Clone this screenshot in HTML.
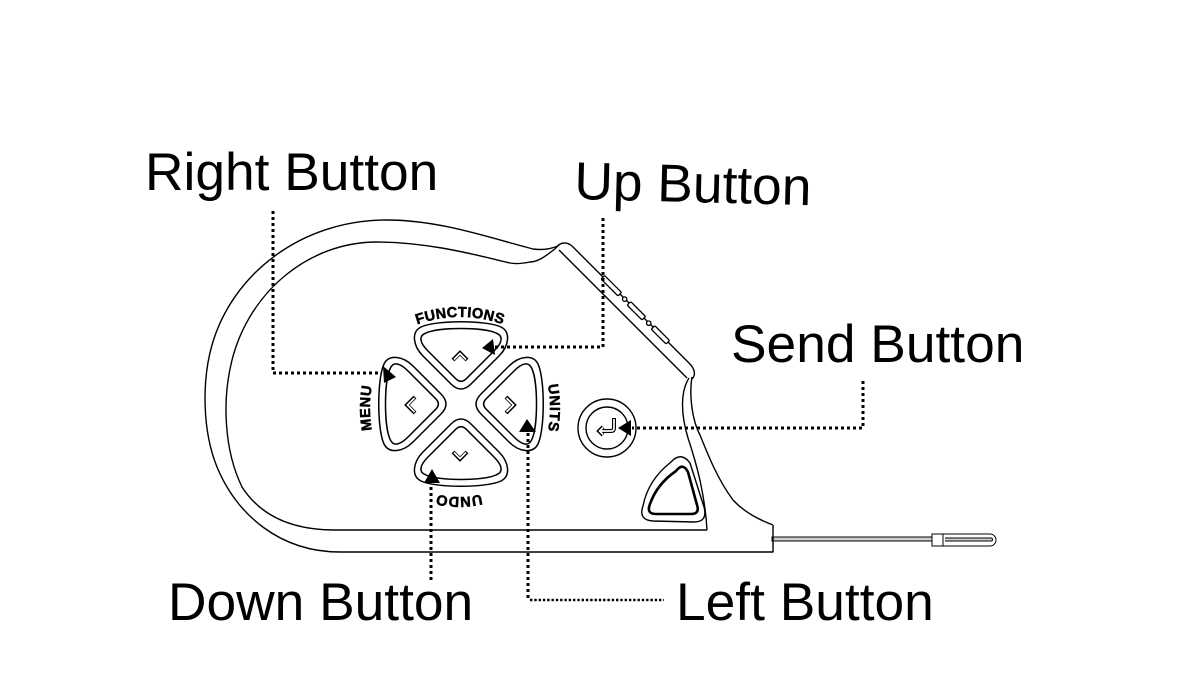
<!DOCTYPE html>
<html><head><meta charset="utf-8">
<style>
html,body{margin:0;padding:0;background:#fff;}
svg{display:block}
</style></head>
<body>
<svg width="1200" height="700" viewBox="0 0 1200 700" xmlns="http://www.w3.org/2000/svg">
<rect width="1200" height="700" fill="#fff"/>

<!-- cable -->
<g stroke="#000" stroke-width="1">
  <rect x="772" y="537" width="160" height="4" fill="#cfcfcf"/>
  <rect x="932" y="534" width="11" height="12" fill="#fff"/>
  <path d="M943,534 L990,534 A6,6 0 0 1 990,546 L943,546 Z" fill="#fff"/>
  <path d="M945,538 L991,538 A1.5,1.5 0 0 1 991,541 L945,541" fill="#cfcfcf"/>
</g>

<!-- body -->
<g fill="none" stroke="#000" stroke-width="1.4" stroke-linejoin="round">
  <path d="M558,246 C548,250 540,250 533,249 C490,238 440,220 387,220 C300,220 232,275 212,345 C202,380 202,430 217,467 C237,515 280,552 340,552 L773,552 L773,525"/>
  <path d="M556,248 C546,256 538,262 530,262 C520,264 515,264 510,263 C480,256 430,242 377,242 C310,242 250,290 232,360 C222,400 224,450 242,487 C260,515 290,530 335,530 L707,530"/>
  <path d="M556,248 C560,242 567,241 573,247 L689,363 C695,369 696,375 692,379"/>
  <path d="M559,250 L687,378"/>
  <path d="M692,377 C689,395 692,420 700,435 C708,455 718,480 733,500 C745,513 760,520 773,525"/>
  <path d="M689,378 C680,392 681,415 688,438 C697,465 705,495 707,530"/>
</g>

<!-- small side buttons on diagonal -->
<g transform="translate(601,279) rotate(45)" fill="#fff" stroke="#000" stroke-width="1.3">
  <rect x="0" y="-5" width="24" height="5" rx="1.2"/>
  <circle cx="31" cy="-2.5" r="2.2"/>
  <rect x="37" y="-5" width="21" height="5" rx="1.2"/>
  <circle cx="65" cy="-2.5" r="2.2"/>
  <rect x="71" y="-5" width="21" height="5" rx="1.2"/>
</g>

<!-- D-pad -->
<g transform="translate(461,404)" fill="#fff" stroke="#000" stroke-width="1.5" stroke-linejoin="round">
  <g>
    <path d="M -10,-20 Q 0,-10 10,-20 L 38,-48 C 48,-58 50,-72 40,-77 C 25,-84 -25,-84 -40,-77 C -50,-72 -48,-58 -38,-48 Z"/>
    <path d="M -5.3,-25.3 Q 0,-20 5.3,-25.3 L 33,-53 C 41,-61 43,-68 35,-71 C 22,-77 -22,-77 -35,-71 C -43,-68 -41,-61 -33,-53 Z"/>
  </g>
  <g transform="rotate(90)">
    <path d="M -10,-20 Q 0,-10 10,-20 L 38,-48 C 48,-58 50,-72 40,-77 C 25,-84 -25,-84 -40,-77 C -50,-72 -48,-58 -38,-48 Z"/>
    <path d="M -5.3,-25.3 Q 0,-20 5.3,-25.3 L 33,-53 C 41,-61 43,-68 35,-71 C 22,-77 -22,-77 -35,-71 C -43,-68 -41,-61 -33,-53 Z"/>
  </g>
  <g transform="rotate(180)">
    <path d="M -10,-20 Q 0,-10 10,-20 L 38,-48 C 48,-58 50,-72 40,-77 C 25,-84 -25,-84 -40,-77 C -50,-72 -48,-58 -38,-48 Z"/>
    <path d="M -5.3,-25.3 Q 0,-20 5.3,-25.3 L 33,-53 C 41,-61 43,-68 35,-71 C 22,-77 -22,-77 -35,-71 C -43,-68 -41,-61 -33,-53 Z"/>
  </g>
  <g transform="rotate(270)">
    <path d="M -10,-20 Q 0,-10 10,-20 L 38,-48 C 48,-58 50,-72 40,-77 C 25,-84 -25,-84 -40,-77 C -50,-72 -48,-58 -38,-48 Z"/>
    <path d="M -5.3,-25.3 Q 0,-20 5.3,-25.3 L 33,-53 C 41,-61 43,-68 35,-71 C 22,-77 -22,-77 -35,-71 C -43,-68 -41,-61 -33,-53 Z"/>
  </g>
</g>

<!-- chevrons (hollow) -->
<g fill="none" stroke="#000" stroke-width="4" stroke-linejoin="miter">
  <path d="M453,360 L460,353 L467,360"/>
  <path d="M415,397 L407,405 L415,413"/>
  <path d="M506,397 L514,405 L506,413"/>
  <path d="M453,452 L460,459 L467,452"/>
</g>
<g fill="none" stroke="#fff" stroke-width="1.7" stroke-linejoin="miter">
  <path d="M454,359.5 L460,353.5 L466,359.5"/>
  <path d="M414.5,398 L407.5,405 L414.5,412"/>
  <path d="M506.5,398 L513.5,405 L506.5,412"/>
  <path d="M454,452.5 L460,458.5 L466,452.5"/>
</g>

<!-- send button -->
<circle cx="607" cy="428" r="29" fill="#fff" stroke="#000" stroke-width="1.4"/>
<circle cx="607" cy="428" r="21" fill="#fff" stroke="#000" stroke-width="1.4"/>
<g fill="none" stroke="#000" stroke-width="4">
  <path d="M614,418 L614,428 Q614,431 611,431 L600,431"/>
  <path d="M603,427 L599,431 L603,435"/>
</g>
<g fill="none" stroke="#fff" stroke-width="1.7">
  <path d="M614,419 L614,428 Q614,431 611,431 L600,431"/>
  <path d="M603,427.5 L599.5,431 L603,434.5"/>
</g>

<!-- triangle button -->
<g fill="#fff" stroke="#000" stroke-linejoin="round">
  <path d="M671,462 Q681,451 690,463 L704,507 Q708,522 694,522 L653,521 Q638,520 643,506 Q648,480 671,462 Z" stroke-width="1.4"/>
  <path d="M676,471 Q683,462 688,472 L697,505 Q700,514 691,514 L656,514 Q646,514 650,504 Q657,484 676,471 Z" stroke-width="2.6"/>
</g>

<!-- D-pad labels -->
<defs>
  <path id="pf" d="M 408,328 Q 460,306 512,328"/>
  <path id="pm" d="M 374,440 Q 366,408 374,376"/>
  <path id="pu" d="M 546,376 Q 554,408 546,440"/>
  <path id="pd" d="M 495,490 Q 459,504 423,490"/>
</defs>
<g font-family="'Liberation Sans', Arial, sans-serif" font-weight="bold" font-size="14.5" fill="#000" stroke="#000" stroke-width="0.5">
  <text letter-spacing="0.3"><textPath href="#pf" startOffset="50%" text-anchor="middle">FUNCTIONS</textPath></text>
  <text letter-spacing="0.5"><textPath href="#pm" startOffset="50%" text-anchor="middle">MENU</textPath></text>
  <text letter-spacing="0.7"><textPath href="#pu" startOffset="50%" text-anchor="middle">UNITS</textPath></text>
  <text letter-spacing="0.5"><textPath href="#pd" startOffset="50%" text-anchor="middle">UNDO</textPath></text>
</g>

<!-- dotted connectors -->
<g fill="none" stroke="#000" stroke-width="3" stroke-dasharray="3 3">
  <path d="M273,211 V373 H382"/>
  <path d="M603,218 V347 H494"/>
  <path d="M431,580 V484"/>
  <path d="M528,433 V600"/>
  <path d="M863,381 V428 H632"/>
</g>
<path d="M530,600 H664" fill="none" stroke="#000" stroke-width="2.4" stroke-dasharray="2.4 1.9"/>

<!-- arrowheads -->
<g fill="#000">
  <polygon points="383,366 384,383 396,377"/>
  <polygon points="482,348 493,339 495,355"/>
  <polygon points="432,469 424,483 440,483"/>
  <polygon points="527,419 519,432 536,432"/>
  <polygon points="618,428 631,420 631,436"/>
</g>

<!-- labels -->
<g font-family="'Liberation Sans', Arial, sans-serif" font-size="53.3" fill="#000">
  <text x="145" y="190">Right Button</text>
  <text x="574" y="199" transform="rotate(1.5 574 199)">Up Button</text>
  <text x="731" y="362">Send Button</text>
  <text x="168" y="620">Down Button</text>
  <text x="676" y="620">Left Button</text>
</g>
</svg>
</body>
</html>
